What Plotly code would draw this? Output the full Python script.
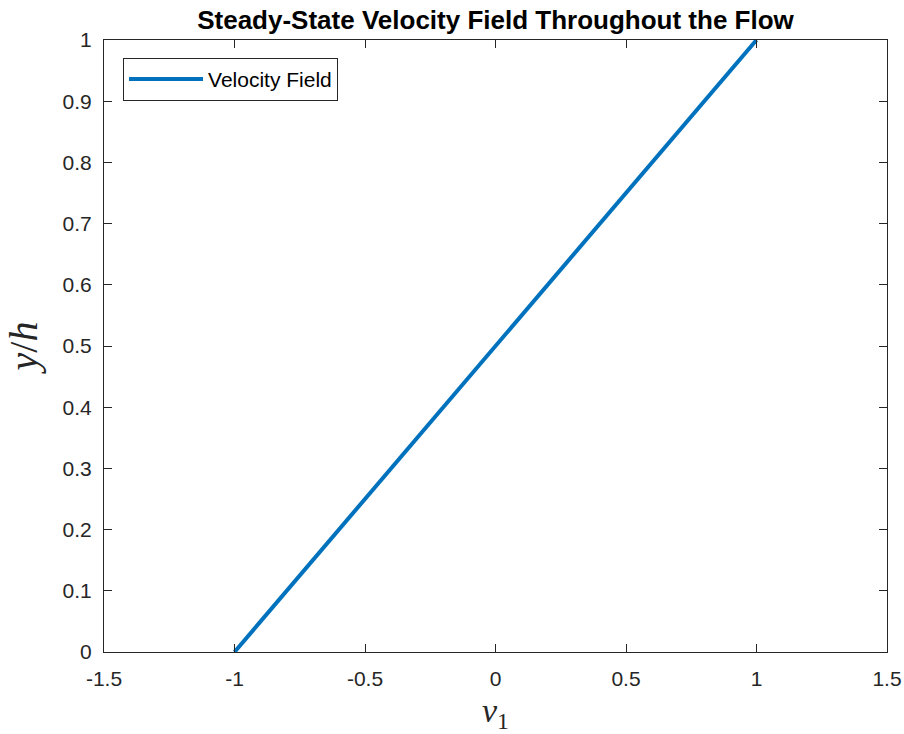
import plotly.graph_objects as go

v1 = [-1.0, 1.0]
y_over_h = [0.0, 1.0]
x_ticks = [-1.5, -1, -0.5, 0, 0.5, 1, 1.5]
x_tick_labels = ["-1.5", "-1", "-0.5", "0", "0.5", "1", "1.5"]
y_ticks = [0, 0.1, 0.2, 0.3, 0.4, 0.5, 0.6, 0.7, 0.8, 0.9, 1]
y_tick_labels = ["0", "0.1", "0.2", "0.3", "0.4", "0.5", "0.6", "0.7", "0.8", "0.9", "1"]

fig = go.Figure()
fig.add_trace(go.Scatter(x=v1, y=y_over_h, mode="lines", name="Velocity Field",
                         line=dict(color="#0072BD", width=4)))

axis_common = dict(showgrid=False, zeroline=False, showline=True, mirror="ticks",
                   linecolor="#262626", linewidth=1, ticks="inside", ticklen=8,
                   automargin=False,
                   tickcolor="#262626", tickfont=dict(family="Liberation Sans, Arial", size=21, color="#262626"))

fig.update_layout(
    width=904, height=734,
    margin=dict(l=104, r=17, t=40, b=82, autoexpand=False),
    paper_bgcolor="white", plot_bgcolor="white",
    title=dict(text="<b>Steady-State Velocity Field Throughout the Flow</b>",
               x=0.5, xref="paper", y=1-20/734, yref="container", yanchor="middle",
               automargin=False,
               font=dict(family="Liberation Sans, Arial", size=26, color="black")),
    xaxis=dict(range=[-1.5, 1.5], tickvals=x_ticks, ticktext=x_tick_labels,
               ticklabelstandoff=8,
               title=dict(text="<i>v</i><sub>1</sub>", standoff=12,
                          font=dict(family="Liberation Serif, DejaVu Serif", size=34, color="#262626")),
               **axis_common),
    yaxis=dict(range=[0, 1], tickvals=y_ticks, ticktext=y_tick_labels,
               ticklabelstandoff=7,
               title=dict(text="<i>y</i>/<i>h</i>", standoff=12,
                          font=dict(family="Liberation Serif, DejaVu Serif", size=40, color="#262626")),
               **axis_common),
    showlegend=True,
    legend=dict(x=0.0243, y=0.971, xanchor="left", yanchor="top",
                bgcolor="white", bordercolor="#262626", borderwidth=1,
                font=dict(family="Liberation Sans, Arial", size=21, color="black"),
                itemwidth=74, tracegroupgap=0),
)

fig.write_html("out.html")
